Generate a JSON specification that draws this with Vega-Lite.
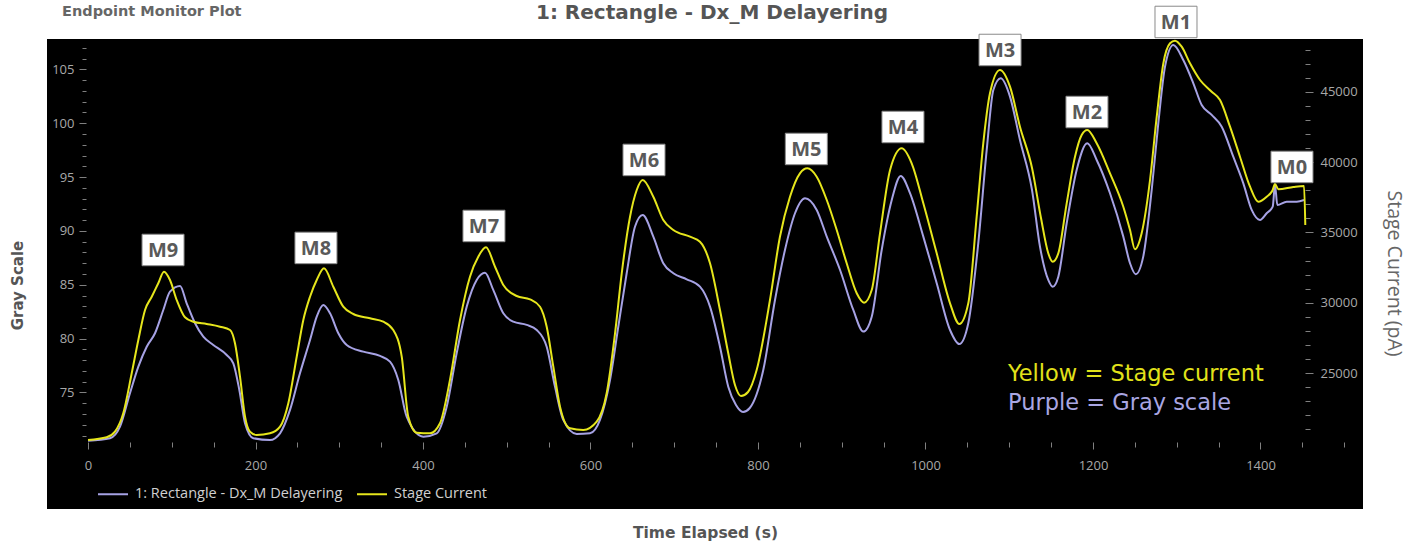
{
  "$schema": "https://vega.github.io/schema/vega-lite/v6.json",
  "width": 1316,
  "height": 470,
  "autosize": {"type": "none"},
  "padding": {"left": 47, "top": 39, "right": 52, "bottom": 37},
  "background": "#ffffff",
  "view": {"fill": "#000000", "stroke": null},
  "config": {
    "axis": {"grid": false, "domain": false, "labelFont": "Open Sans", "labelFontSize": 13, "labelColor": "#a8a8a8", "tickColor": "#808080", "titleFont": "DejaVu Sans", "titleFontSize": 15, "titleColor": "#555555"},
    "axisX": {"orient": "bottom", "offset": -67, "values": [0,40,80,120,160,200,240,280,320,360,400,440,480,520,560,600,640,680,720,760,800,840,880,920,960,1000,1040,1080,1120,1160,1200,1240,1280,1320,1360,1400,1440], "format": "d", "labelExpr": "datum.value % 200 === 0 ? datum.label : ''", "labelOverlap": false, "tickSize": {"condition": {"test": "datum.value % 200 === 0", "value": 7}, "value": 5}, "labelPadding": 10, "titleX": 658, "titleY": 90, "titleBaseline": "middle", "titleAlign": "center", "titleFontWeight": "bold", "titleFontSize": 15.5}
  },
  "datasets": {
    "purple": [
      {"t":0,"gray":70.52},{"t":26.3,"gray":70.75},{"t":38.2,"gray":71.82},{"t":50.1,"gray":74.93},{"t":60.1,"gray":77.40},{"t":70.1,"gray":79.25},{"t":80.0,"gray":80.50},{"t":89.9,"gray":82.66},{"t":97.9,"gray":84.36},{"t":109.9,"gray":84.89},{"t":117.8,"gray":83.28},{"t":127.8,"gray":81.43},{"t":137.7,"gray":80.18},{"t":149.6,"gray":79.41},{"t":165.6,"gray":78.48},{"t":173.5,"gray":77.71},{"t":180.7,"gray":75.23},{"t":187.5,"gray":72.14},{"t":197.4,"gray":70.75},{"t":217.3,"gray":70.59},{"t":229.3,"gray":71.21},{"t":241.2,"gray":73.38},{"t":253.1,"gray":76.78},{"t":265.1,"gray":79.87},{"t":273.1,"gray":82.04},{"t":281.0,"gray":83.12},{"t":289.0,"gray":82.35},{"t":298.9,"gray":80.50},{"t":308.9,"gray":79.41},{"t":328.7,"gray":78.79},{"t":348.7,"gray":78.39},{"t":360.6,"gray":77.86},{"t":370.5,"gray":76.16},{"t":380.5,"gray":72.75},{"t":400.4,"gray":70.90},{"t":416.4,"gray":71.21},{"t":428.3,"gray":73.68},{"t":440.2,"gray":78.64},{"t":452.2,"gray":82.97},{"t":464.1,"gray":85.45},{"t":474.0,"gray":86.12},{"t":483.9,"gray":84.52},{"t":495.9,"gray":82.35},{"t":507.8,"gray":81.57},{"t":523.8,"gray":81.27},{"t":535.8,"gray":80.80},{"t":547.7,"gray":79.25},{"t":557.6,"gray":75.54},{"t":567.5,"gray":72.45},{"t":583.5,"gray":71.15},{"t":599.4,"gray":71.21},{"t":611.3,"gray":72.45},{"t":623.3,"gray":76.16},{"t":633.2,"gray":81.11},{"t":643.2,"gray":86.07},{"t":653.1,"gray":90.39},{"t":662.3,"gray":91.48},{"t":675.0,"gray":89.47},{"t":686.9,"gray":87.00},{"t":698.9,"gray":86.07},{"t":714.9,"gray":85.51},{"t":730.7,"gray":84.82},{"t":742.7,"gray":82.97},{"t":754.6,"gray":79.25},{"t":764.5,"gray":75.54},{"t":773.7,"gray":73.84},{"t":782.1,"gray":73.19},{"t":790.2,"gray":73.56},{"t":806.3,"gray":77.09},{"t":820.3,"gray":83.59},{"t":832.2,"gray":88.23},{"t":844.2,"gray":91.64},{"t":856.1,"gray":93.03},{"t":870.1,"gray":91.95},{"t":882.1,"gray":89.47},{"t":898.0,"gray":86.37},{"t":913.8,"gray":82.66},{"t":925.7,"gray":80.65},{"t":935.8,"gray":82.04},{"t":947.7,"gray":88.23},{"t":959.7,"gray":92.87},{"t":970.4,"gray":95.10},{"t":981.5,"gray":93.50},{"t":997.4,"gray":89.47},{"t":1013.4,"gray":85.14},{"t":1029.3,"gray":80.80},{"t":1040.4,"gray":79.50},{"t":1051.1,"gray":81.43},{"t":1063.0,"gray":88.85},{"t":1073.1,"gray":97.52},{"t":1081.0,"gray":103.09},{"t":1089.8,"gray":104.17},{"t":1100.9,"gray":102.47},{"t":1112.8,"gray":98.44},{"t":1127.2,"gray":93.80},{"t":1136.7,"gray":88.54},{"t":1146.6,"gray":85.45},{"t":1151.9,"gray":84.82},{"t":1158.6,"gray":85.75},{"t":1168.6,"gray":90.71},{"t":1180.5,"gray":95.66},{"t":1193.2,"gray":98.14},{"t":1204.4,"gray":96.59},{"t":1220.3,"gray":93.50},{"t":1236.2,"gray":89.47},{"t":1244.2,"gray":87.00},{"t":1251.0,"gray":85.98},{"t":1260.0,"gray":87.61},{"t":1270.1,"gray":93.80},{"t":1278.0,"gray":100.00},{"t":1286.0,"gray":105.25},{"t":1295.9,"gray":107.27},{"t":1307.8,"gray":105.87},{"t":1319.8,"gray":103.71},{"t":1329.8,"gray":101.69},{"t":1341.7,"gray":100.77},{"t":1353.7,"gray":99.68},{"t":1367.5,"gray":96.89},{"t":1379.5,"gray":94.42},{"t":1389.5,"gray":91.95},{"t":1399.4,"gray":91.02},{"t":1407.4,"gray":91.64},{"t":1414.6,"gray":92.25},{"t":1417.3,"gray":94.27},{"t":1420.1,"gray":92.41},{"t":1431.3,"gray":92.72},{"t":1443.3,"gray":92.72},{"t":1452.0,"gray":92.87}
    ],
    "yellow": [
      {"t":0,"current":20232},{"t":22.3,"current":20424},{"t":32.2,"current":20822},{"t":42.1,"current":22132},{"t":52.2,"current":24979},{"t":60.1,"current":27349},{"t":68.1,"current":29484},{"t":76.1,"current":30430},{"t":83.9,"current":31384},{"t":90.7,"current":32210},{"t":97.9,"current":31619},{"t":105.9,"current":30195},{"t":115.8,"current":28964},{"t":125.7,"current":28651},{"t":141.7,"current":28487},{"t":157.6,"current":28295},{"t":169.6,"current":28060},{"t":175.5,"current":27114},{"t":181.5,"current":24737},{"t":187.5,"current":21890},{"t":193.4,"current":20822},{"t":201.4,"current":20587},{"t":217.3,"current":20708},{"t":229.3,"current":21178},{"t":239.2,"current":22844},{"t":249.2,"current":26160},{"t":257.1,"current":28772},{"t":265.1,"current":30430},{"t":273.1,"current":31619},{"t":281.8,"current":32452},{"t":292.9,"current":31142},{"t":304.8,"current":29719},{"t":316.8,"current":29199},{"t":336.7,"current":28893},{"t":352.6,"current":28651},{"t":364.5,"current":28060},{"t":374.6,"current":26160},{"t":382.4,"current":21890},{"t":392.5,"current":20751},{"t":408.4,"current":20708},{"t":420.3,"current":21420},{"t":432.2,"current":24502},{"t":444.2,"current":28772},{"t":456.1,"current":31854},{"t":466.0,"current":33277},{"t":475.2,"current":33946},{"t":486.0,"current":32565},{"t":495.9,"current":31263},{"t":511.9,"current":30480},{"t":527.8,"current":30245},{"t":539.7,"current":29719},{"t":547.7,"current":28295},{"t":555.6,"current":25448},{"t":563.6,"current":22602},{"t":575.5,"current":21064},{"t":591.4,"current":20943},{"t":607.4,"current":21534},{"t":619.3,"current":23555},{"t":629.3,"current":27825},{"t":637.3,"current":32096},{"t":647.2,"current":36124},{"t":655.2,"current":38024},{"t":662.3,"current":38736},{"t":675.0,"current":37547},{"t":686.9,"current":35889},{"t":698.9,"current":35177},{"t":718.8,"current":34700},{"t":730.7,"current":34345},{"t":742.7,"current":32807},{"t":754.6,"current":29484},{"t":764.5,"current":26402},{"t":772.5,"current":24146},{"t":779.7,"current":23363},{"t":788.1,"current":23648},{"t":798.4,"current":25214},{"t":814.3,"current":30195},{"t":826.2,"current":34700},{"t":838.2,"current":37547},{"t":850.1,"current":39213},{"t":858.9,"current":39569},{"t":870.1,"current":38971},{"t":882.1,"current":37312},{"t":894.0,"current":35177},{"t":905.9,"current":32807},{"t":917.9,"current":30672},{"t":926.6,"current":30003},{"t":935.8,"current":30907},{"t":945.7,"current":34942},{"t":957.7,"current":39448},{"t":971.6,"current":40992},{"t":983.5,"current":39924},{"t":997.4,"current":37078},{"t":1013.4,"current":33519},{"t":1029.3,"current":29961},{"t":1040.4,"current":28487},{"t":1051.1,"current":29961},{"t":1061.1,"current":36124},{"t":1069.0,"current":41348},{"t":1077.0,"current":44906},{"t":1088.9,"current":46565},{"t":1100.9,"current":45376},{"t":1112.8,"current":42529},{"t":1127.2,"current":39590},{"t":1137.9,"current":36031},{"t":1146.6,"current":33519},{"t":1151.9,"current":32921},{"t":1158.6,"current":33519},{"t":1168.6,"current":37078},{"t":1178.5,"current":40394},{"t":1186.5,"current":41938},{"t":1193.2,"current":42294},{"t":1204.4,"current":41348},{"t":1220.3,"current":39213},{"t":1236.2,"current":36836},{"t":1244.2,"current":35177},{"t":1250.1,"current":33804},{"t":1258.1,"current":34942},{"t":1268.1,"current":38736},{"t":1276.1,"current":43241},{"t":1284.0,"current":47041},{"t":1292.0,"current":48465},{"t":1297.9,"current":48650},{"t":1305.9,"current":48223},{"t":1315.8,"current":47041},{"t":1327.8,"current":45853},{"t":1341.7,"current":45020},{"t":1351.7,"current":44429},{"t":1363.6,"current":42529},{"t":1375.5,"current":40394},{"t":1387.5,"current":38259},{"t":1397.4,"current":37191},{"t":1407.4,"current":37547},{"t":1414.6,"current":38024},{"t":1417.3,"current":38451},{"t":1421.3,"current":38074},{"t":1439.2,"current":38238},{"t":1452.0,"current":38309},{"t":1453.5,"current":35533}
    ],
    "markers": [
      {"label":"M9","t":89.6,"g":88.23},{"label":"M8","t":272.2,"g":88.42},{"label":"M7","t":472.8,"g":90.46},{"label":"M6","t":663.9,"g":96.59},{"label":"M5","t":857.7,"g":97.61},{"label":"M4","t":973.1,"g":99.65},{"label":"M3","t":1089.0,"g":106.80},{"label":"M2","t":1192.8,"g":101.04},{"label":"M1","t":1299.1,"g":109.40},{"label":"M0","t":1437.6,"g":95.94}
    ],
    "one": [{}]
  },
  "layer": [
    {
      "data": {"name": "purple"},
      "mark": {"type": "line", "interpolate": "monotone", "strokeWidth": 2},
      "encoding": {
        "x": {"field": "t", "type": "quantitative", "title": "Time Elapsed (s)", "scale": {"domain": [-48.96, 1522.4], "nice": false, "zero": false}},
        "y": {"field": "gray", "type": "quantitative", "scale": {"domain": [64.18, 107.82], "nice": false, "zero": false},
          "axis": {"orient": "left", "offset": -39, "values": [71,72,73,74,75,76,77,78,79,80,81,82,83,84,85,86,87,88,89,90,91,92,93,94,95,96,97,98,99,100,101,102,103,104,105,106,107], "format": "d", "labelExpr": "datum.value % 5 === 0 ? datum.label : ''", "labelOverlap": false, "tickSize": {"condition": {"test": "datum.value % 5 === 0", "value": 7}, "value": 4}, "labelPadding": 5, "title": "Gray Scale", "titleX": -69, "titleY": 246, "titleBaseline": "middle", "titleAlign": "center", "titleFontWeight": "bold", "titleFontSize": 15}},
        "color": {"datum": "1: Rectangle - Dx_M Delayering", "type": "nominal",
          "scale": {"domain": ["1: Rectangle - Dx_M Delayering", "Stage Current"], "range": ["#a6a2e4", "#e6e61c"]},
          "legend": {"orient": "none", "legendX": 50, "legendY": 439, "direction": "horizontal", "title": null, "symbolType": "stroke", "symbolStrokeWidth": 2, "symbolSize": 900, "labelFont": "Open Sans", "labelFontSize": 14.5, "labelColor": "#d0d0d0", "labelLimit": 400, "columnPadding": 10, "labelOffset": 6}}
      }
    },
    {
      "data": {"name": "yellow"},
      "mark": {"type": "line", "interpolate": "monotone", "strokeWidth": 2},
      "encoding": {
        "x": {"field": "t", "type": "quantitative", "title": "Time Elapsed (s)", "scale": {"domain": [-48.96, 1522.4], "nice": false, "zero": false}},
        "y": {"field": "current", "type": "quantitative", "scale": {"domain": [15321, 48771], "nice": false, "zero": false},
          "axis": {"orient": "right", "offset": -58, "values": [21000,22000,23000,24000,25000,26000,27000,28000,29000,30000,31000,32000,33000,34000,35000,36000,37000,38000,39000,40000,41000,42000,43000,44000,45000,46000,47000,48000], "format": "d", "labelExpr": "datum.value % 5000 === 0 ? datum.label : ''", "labelOverlap": false, "tickSize": {"condition": {"test": "datum.value % 5000 === 0", "value": 8}, "value": 5}, "labelPadding": 7, "title": "Stage Current (pA)", "titleX": 88, "titleY": 234, "titleBaseline": "middle", "titleAlign": "center", "titleFont": "Open Sans", "titleFontWeight": "normal", "titleColor": "#666666", "titleFontSize": 19.5}},
        "color": {"datum": "Stage Current", "type": "nominal"}
      }
    },
    {
      "data": {"name": "markers"},
      "mark": {"type": "point", "shape": "M-1,-0.75H1V0.75H-1Z", "size": 1764, "filled": true, "fill": "#ffffff", "stroke": "#8a8a8a", "strokeWidth": 1, "opacity": 1},
      "encoding": {
        "x": {"field": "t", "type": "quantitative", "title": "Time Elapsed (s)", "scale": {"domain": [-48.96, 1522.4], "nice": false, "zero": false}},
        "y": {"field": "g", "type": "quantitative", "scale": {"domain": [64.18, 107.82], "nice": false, "zero": false}, "axis": null}
      }
    },
    {
      "data": {"name": "markers"},
      "mark": {"type": "text", "font": "Open Sans", "fontSize": 20, "fontWeight": "bold", "fill": "#5a5a5a", "align": "center", "baseline": "middle", "dy": 1},
      "encoding": {
        "x": {"field": "t", "type": "quantitative", "title": "Time Elapsed (s)", "scale": {"domain": [-48.96, 1522.4], "nice": false, "zero": false}},
        "y": {"field": "g", "type": "quantitative", "scale": {"domain": [64.18, 107.82], "nice": false, "zero": false}, "axis": null},
        "text": {"field": "label"}
      }
    },
    {
      "data": {"name": "one"},
      "mark": {"type": "text", "font": "DejaVu Sans", "fontSize": 22.5, "fill": "#e2e21a", "align": "left", "baseline": "middle"},
      "encoding": {
        "x": {"datum": 1098.5, "type": "quantitative", "title": "Time Elapsed (s)", "scale": {"domain": [-48.96, 1522.4], "nice": false, "zero": false}},
        "y": {"datum": 76.72, "type": "quantitative", "scale": {"domain": [64.18, 107.82], "nice": false, "zero": false}, "axis": null},
        "text": {"value": "Yellow = Stage current"}
      }
    },
    {
      "data": {"name": "one"},
      "mark": {"type": "text", "font": "DejaVu Sans", "fontSize": 22.5, "fill": "#a9a6e2", "align": "left", "baseline": "middle"},
      "encoding": {
        "x": {"datum": 1098.5, "type": "quantitative", "title": "Time Elapsed (s)", "scale": {"domain": [-48.96, 1522.4], "nice": false, "zero": false}},
        "y": {"datum": 74.02, "type": "quantitative", "scale": {"domain": [64.18, 107.82], "nice": false, "zero": false}, "axis": null},
        "text": {"value": "Purple = Gray scale"}
      }
    },
    {
      "data": {"name": "one"},
      "mark": {"type": "text", "font": "DejaVu Sans", "fontSize": 14.5, "fontWeight": "bold", "fill": "#666666", "align": "left", "baseline": "middle"},
      "encoding": {
        "x": {"datum": -31, "type": "quantitative", "title": "Time Elapsed (s)", "scale": {"domain": [-48.96, 1522.4], "nice": false, "zero": false}},
        "y": {"datum": 110.33, "type": "quantitative", "scale": {"domain": [64.18, 107.82], "nice": false, "zero": false}, "axis": null},
        "text": {"value": "Endpoint Monitor Plot"}
      }
    },
    {
      "data": {"name": "one"},
      "mark": {"type": "text", "font": "DejaVu Sans", "fontSize": 20, "fontWeight": "bold", "fill": "#555555", "align": "center", "baseline": "middle"},
      "encoding": {
        "x": {"datum": 745.1, "type": "quantitative", "title": "Time Elapsed (s)", "scale": {"domain": [-48.96, 1522.4], "nice": false, "zero": false}},
        "y": {"datum": 110.24, "type": "quantitative", "scale": {"domain": [64.18, 107.82], "nice": false, "zero": false}, "axis": null},
        "text": {"value": "1: Rectangle - Dx_M Delayering"}
      }
    }
  ],
  "resolve": {"scale": {"y": "independent"}}
}
